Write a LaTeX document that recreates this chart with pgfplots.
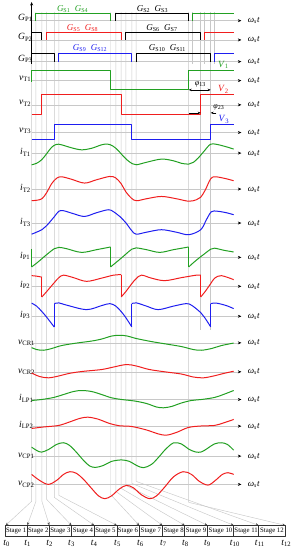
\documentclass[border=0pt]{standalone}
\usepackage{fontspec}
\setmainfont{Liberation Serif}
\usepackage{pgfplots}
\pgfplotsset{compat=1.18}
\usetikzlibrary{arrows.meta}
\definecolor{cg}{RGB}{34,160,34}
\definecolor{cr}{RGB}{240,30,30}
\definecolor{cb}{RGB}{30,30,240}
\definecolor{gy}{RGB}{200,200,200}
\newcommand{\lb}[2]{\textit{#1}\textsubscript{#2}}
\newcommand{\wst}{\textit{ω}\textsubscript{\textit{s}}\textit{t}}
\tikzset{
  wv/.style={line width=1pt,smooth,tension=0.55},
  sq/.style={line width=1pt},
  gl/.style={gy,line width=0.45pt},
  ga/.style={gy,line width=0.45pt,-{Stealth[length=3pt,width=2.4pt,black!70]}},
  lab/.style={anchor=base west,font=\fontsize{9.5}{10}\selectfont}}
\begin{document}
\begin{tikzpicture}
\begin{axis}[width=293pt,height=550pt,scale only axis,xmin=0,xmax=293,ymin=0,ymax=550,
  y dir=reverse,axis lines=none,clip=false,
  every axis plot/.append style={line join=round}]
\addplot[draw=none] coordinates {(0,0)(293,550)};
% vertical guide lines to stage boxes
\addplot[ga] coordinates {(30,12)(30,502)(4,526)};
\addplot[ga] coordinates {(34.3,12)(34.3,502)(25.7,526)};
\addplot[ga] coordinates {(40.3,12)(40.3,502)(47.7,526)};
\addplot[ga] coordinates {(45,12)(45,500)(70,526)};
\addplot[ga] coordinates {(52.7,12)(52.7,498)(92.7,526)};
\addplot[ga] coordinates {(57.3,12)(57.3,496)(115.3,526)};
\addplot[ga] coordinates {(109,12)(109,495)(137.7,526)};
\addplot[ga] coordinates {(114.3,12)(114.3,492)(161,526)};
\addplot[ga] coordinates {(119.7,12)(119.7,489)(183.3,526)};
\addplot[ga] coordinates {(124.3,12)(124.3,486)(206,526)};
\addplot[ga] coordinates {(130.3,12)(130.3,484)(232.3,526)};
\addplot[ga] coordinates {(134.7,12)(134.7,482)(257.3,526)};
\addplot[ga] coordinates {(187.3,12)(187.3,503)(284,526)};
\addplot[gl] coordinates {(190.7,12)(190.7,64)};
\addplot[gl] coordinates {(203.3,12)(203.3,64)};
\addplot[gl] coordinates {(213.3,12)(213.3,64)};
\addplot[gl] coordinates {(199.3,12)(199.3,330)};
\addplot[gl] coordinates {(209.3,12)(209.3,330)};
% horizontal baselines
\pgfplotsinvokeforeach{20.7,40,61.7,80.7,105,132.7,153.3,189.3,223.3,257.7,286.7,316.7,343.3,372.3,400,426.7,456.7,485}{
  \addplot[gy,line width=0.45pt,-{Stealth[length=3.5pt,width=3pt,black]}] coordinates {(30,#1)(240,#1)};
  \node[anchor=west,font=\fontsize{9}{10}\selectfont] at (axis cs:243,#1) {\wst};
}
\addplot[black,line width=0.5pt,-{Stealth[length=3.5pt,width=3pt]}] coordinates {(30,64)(30,2)};
% left labels
\node[lab] at (axis cs:13,20.7) {\lb{G}{P1}};
\node[lab] at (axis cs:13,40) {\lb{G}{P2}};
\node[lab] at (axis cs:13,61.7) {\lb{G}{P3}};
\node[lab] at (axis cs:14,80.7) {\lb{v}{T1}};
\node[lab] at (axis cs:14,105) {\lb{v}{T2}};
\node[lab] at (axis cs:14,132.7) {\lb{v}{T3}};
\node[lab] at (axis cs:15,155) {\lb{i}{T1}};
\node[lab] at (axis cs:15,191) {\lb{i}{T2}};
\node[lab] at (axis cs:15,225) {\lb{i}{T3}};
\node[lab] at (axis cs:15,259) {\lb{i}{P1}};
\node[lab] at (axis cs:15,288) {\lb{i}{P2}};
\node[lab] at (axis cs:15,318) {\lb{i}{P3}};
\node[lab] at (axis cs:13,344.5) {\lb{v}{CR1}};
\node[lab] at (axis cs:13,373.5) {\lb{v}{CR2}};
\node[lab] at (axis cs:14,401.5) {\lb{i}{LP1}};
\node[lab] at (axis cs:14,428) {\lb{i}{LP2}};
\node[lab] at (axis cs:13,458) {\lb{v}{CP1}};
\node[lab] at (axis cs:13,486.5) {\lb{v}{CP2}};
% gate signals
\addplot[black,sq] coordinates {(30,14)(30,20.7)};
\addplot[cg,sq] coordinates {(34.3,20.7)(34.3,14)(109,14)(109,20.7)};
\addplot[black,sq] coordinates {(114.3,20.7)(114.3,14)(187.3,14)(187.3,20.7)};
\addplot[cg,sq] coordinates {(190.7,20.7)(190.7,14)(232.3,14)};
\addplot[black,sq] coordinates {(30,32.7)(40.3,32.7)(40.3,40)};
\addplot[cr,sq] coordinates {(45,40)(45,32.7)(119.7,32.7)(119.7,40)};
\addplot[black,sq] coordinates {(124.3,40)(124.3,32.7)(199.3,32.7)(199.3,40)};
\addplot[cr,sq] coordinates {(203.3,40)(203.3,32.7)(232.3,32.7)};
\addplot[black,sq] coordinates {(30,53.3)(52.7,53.3)(52.7,61.7)};
\addplot[cb,sq] coordinates {(57.3,61.7)(57.3,53.3)(130.3,53.3)(130.3,61.7)};
\addplot[black,sq] coordinates {(134.7,61.7)(134.7,53.3)(209.3,53.3)(209.3,61.7)};
\addplot[cb,sq] coordinates {(213.3,61.7)(213.3,53.3)(232.3,53.3)};
\node[anchor=base,cg,font=\fontsize{9}{10}\selectfont] at (axis cs:71,11.3) {\lb{G}{S1}\ \ \lb{G}{S4}};
\node[anchor=base,black,font=\fontsize{9}{10}\selectfont] at (axis cs:151,11.3) {\lb{G}{S2}\ \ \lb{G}{S3}};
\node[anchor=base,cr,font=\fontsize{9}{10}\selectfont] at (axis cs:81,30.3) {\lb{G}{S5}\ \ \lb{G}{S8}};
\node[anchor=base,black,font=\fontsize{9}{10}\selectfont] at (axis cs:160.5,30.3) {\lb{G}{S6}\ \ \lb{G}{S7}};
\node[anchor=base,cb,font=\fontsize{9}{10}\selectfont] at (axis cs:88.5,51) {\lb{G}{S9}\ \ \lb{G}{S12}};
\node[anchor=base,black,font=\fontsize{9}{10}\selectfont] at (axis cs:166,51) {\lb{G}{S10}\ \ \lb{G}{S11}};
% transformer voltages
\addplot[cg,sq] coordinates {(30,81.7)(30,70.7)(109,70.7)(109,90)(187.3,90)(187.3,70.7)(232.3,70.7)};
\addplot[cr,sq] coordinates {(30,115)(40.3,115)(40.3,95)(119.7,95)(119.7,115)(199.3,115)(199.3,95)(232.3,95)};
\addplot[cb,sq] coordinates {(30,140)(52.7,140)(52.7,125)(130.3,125)(130.3,140)(209.3,140)(209.3,125)(232.3,125)};
\node[cg,font=\fontsize{9.5}{10}\selectfont] at (axis cs:222,65) {\lb{V}{1}};
\node[cr,font=\fontsize{9.5}{10}\selectfont] at (axis cs:222,89.5) {\lb{V}{2}};
\node[cb,font=\fontsize{9.5}{10}\selectfont] at (axis cs:222.5,119.5) {\lb{V}{3}};
\addplot[black,line width=0.4pt,{Stealth[length=3pt,width=2.4pt]}-{Stealth[length=3pt,width=2.4pt]}] coordinates {(187.3,90)(209.3,90)};
\node[font=\fontsize{8}{9}\selectfont] at (axis cs:199,84.5) {\textit{φ}\textsubscript{13}};
\addplot[black,line width=0.4pt,-{Stealth[length=3pt,width=2.4pt]}] coordinates {(187.3,113)(199.3,113)};
\addplot[black,line width=0.4pt,-{Stealth[length=3pt,width=2.4pt]}] coordinates {(215,113)(209.3,113)};
\node[font=\fontsize{8}{9}\selectfont] at (axis cs:217.5,107.5) {\textit{φ}\textsubscript{23}};
% iT1
\addplot[cg,wv] coordinates {(30,165)(35,163.5)(40,160)(45,154)(50,147.5)(55,144.5)(60,145)(70,148)(80,150)(90,148.5)(100,145)(106,144.3)(111,146)(116,150)(121,155.5)(126,160.5)(131,164)(135,165)(145,162.5)(160,159.3)(172,161)(180,163.5)(187.3,164.3)(192,162.5)(197,158)(203,151)(209,144.5)(215,144.5)(225,147)(232.3,149.3)};
% iT2
\addplot[cr,wv] coordinates {(30,201)(35,200.5)(40.3,199)(45,193)(50,184)(55,178.5)(60,177)(70,179.5)(83,183.3)(95,180)(108,176.7)(114,178)(119.7,184)(124.3,192)(130,198.5)(135,201)(145,199)(160,196.7)(175,199)(187.3,201.5)(195,200)(199.3,197.5)(204,190)(209.3,179)(214,177)(225,179)(232.3,181)};
% iT3
\addplot[cb,wv] coordinates {(30,234.5)(40.3,230)(45,226)(52.7,217)(57.3,211.5)(62,211)(72,214)(83,216.7)(95,213)(106.7,210)(112,212)(119.7,218)(124.3,223)(130.3,231)(134.7,234.5)(145,232.5)(160,230)(175,232.5)(187.3,235)(199.3,230)(205,220)(210,212)(216,211.5)(225,213)(232.3,215)};
% iP1
\addplot[cg,sq] coordinates {(30,249.3)(30,267.3)};
\addplot[cg,wv] coordinates {(30,267.3)(35,263.5)(40.3,259)(45,255)(52.7,249)(57.3,247.7)(65,249)(80,252.7)(95,250)(109,247.3)};
\addplot[cg,sq] coordinates {(109,247.3)(109,267.3)};
\addplot[cg,wv] coordinates {(109,267.3)(114.3,263)(119.7,258.5)(124.3,254.5)(130.3,249.5)(134.7,248.2)(145,250)(158.3,252.7)(172,250)(187.3,247.3)};
\addplot[cg,sq] coordinates {(187.3,247.3)(187.3,267.3)};
\addplot[cg,wv] coordinates {(187.3,267.3)(192,263)(199.3,257)(203.3,254)(209.3,249.5)(213.3,248.5)(222,250.5)(232.3,252.3)};
% iP2
\addplot[cr,wv] coordinates {(30,276)(35,276.5)(40.3,277.5)};
\addplot[cr,sq] coordinates {(40.3,277.5)(40.3,297.3)};
\addplot[cr,wv] coordinates {(40.3,297.3)(45,292)(52.7,283)(57.3,278)(62,275.5)(72,278)(85,281.7)(100,278.5)(112,275.5)(119.7,275)};
\addplot[cr,sq] coordinates {(119.7,275)(119.7,297.3)};
\addplot[cr,wv] coordinates {(119.7,297.3)(124.3,292)(130.3,284)(134.7,279)(140,275.5)(150,278.5)(163.3,281)(180,278)(195,275.5)(199.3,275.5)};
\addplot[cr,sq] coordinates {(199.3,275.5)(199.3,297.3)};
\addplot[cr,wv] coordinates {(199.3,297.3)(203.3,292.5)(209.3,284)(213.3,278.5)(220,276)(232.3,280)};
% iP3
\addplot[cb,wv] coordinates {(30,303.5)(35,306.5)(40.3,312)(45,317.5)(52.7,327.5)};
\addplot[cb,sq] coordinates {(52.7,327.5)(52.7,304)};
\addplot[cb,wv] coordinates {(52.7,304)(57.3,303.3)(65,305.5)(85,310)(100,306)(108.3,304)(114.3,306.5)(119.7,312)(124.3,318)(130.3,327.3)};
\addplot[cb,sq] coordinates {(130.3,327.3)(130.3,304)};
\addplot[cb,wv] coordinates {(130.3,304)(135,303.3)(145,306.5)(156.7,310)(172,306.5)(185,304)(190.7,306)(199.3,313)(203.3,318)(209.3,327.3)};
\addplot[cb,sq] coordinates {(209.3,327.3)(209.3,304)};
\addplot[cb,wv] coordinates {(209.3,304)(215,303.5)(225,306)(232.3,309)};
% vCR1, vCR2
\addplot[cg,wv] coordinates {(30,348)(35,350)(42,350.7)(50,349)(60,346)(75,343.5)(90,341.5)(100,339.5)(110,336.5)(118,335.7)(126,336.5)(135,339)(150,342)(165,344.5)(180,347)(192,350)(200,350.7)(210,349)(220,346)(232.3,343.5)};
\addplot[cr,wv] coordinates {(30,373.5)(38,377)(47,378.3)(57,376.5)(67,374)(80,372)(100,370)(112,367.5)(125,365)(135,366.5)(148,370)(165,372.5)(180,374.5)(192,377.5)(202,378.3)(212,376.5)(222,374)(232.3,371.7)};
% iLP1, iLP2
\addplot[cg,wv] coordinates {(30,401)(40,400)(52,398)(62,395)(72,392)(80,391)(90,392)(100,395)(110,398.3)(120,400)(133,401.5)(145,404)(155,407.5)(162,408.3)(170,407)(180,403.5)(190,401)(200,400)(213,398)(222,395)(232.3,391)};
\addplot[cr,wv] coordinates {(30,429)(42,427.5)(57,426)(68,422.5)(78,419)(86,417.7)(96,419.5)(108,424)(118,426.3)(130,427)(145,430.5)(157,434.5)(165,435.7)(175,433)(187,428)(200,426.5)(213,426)(222,423.5)(232.3,420)};
% vCP1, vCP2
\addplot[cg,wv] coordinates {(30,447.7)(35,451)(40,452.7)(47,450)(55,445)(62,443.3)(68,446)(75,453)(82,461)(88,466.5)(94,468)(102,466)(110,462)(120,460.5)(128,462)(135,466)(142,468.3)(150,465)(157,458)(164,450)(172,443.5)(180,444.5)(187,449.5)(194,452.5)(200,452.5)(206,449)(213,444.5)(220,443.3)(226,445)(232.3,450.7)};
\addplot[cr,wv] coordinates {(30,475)(38,481)(46.7,485)(55,481)(62,475)(68.3,472.3)(75,474)(82,480)(90,489)(97,496.5)(103.3,499.3)(110,496.5)(118,489.5)(125,486)(132,488.5)(140,495.5)(148.3,499.3)(155,496.5)(163,488)(172,477.5)(181.7,472.3)(190,475)(198,482)(206.7,485.7)(214,481)(221,475)(226.7,473.3)(232.3,475)};
% stage boxes
\addplot[black!80,line width=0.5pt] coordinates {(3.3,526)(284,526)(284,537)(3.3,537)(3.3,526)};
\pgfplotsinvokeforeach{25.7,47.7,70,92.7,115.3,137.7,161,183.3,206,232.3,257.3}{
  \addplot[black!80,line width=0.5pt] coordinates {(#1,526)(#1,537)};
}
\node[font=\fontsize{6.8}{8}\selectfont] at (axis cs:14.5,531.5) {Stage 1};
\node[font=\fontsize{6.8}{8}\selectfont] at (axis cs:36.7,531.5) {Stage 2};
\node[font=\fontsize{6.8}{8}\selectfont] at (axis cs:58.85,531.5) {Stage 3};
\node[font=\fontsize{6.8}{8}\selectfont] at (axis cs:81.35,531.5) {Stage 4};
\node[font=\fontsize{6.8}{8}\selectfont] at (axis cs:104,531.5) {Stage 5};
\node[font=\fontsize{6.8}{8}\selectfont] at (axis cs:126.5,531.5) {Stage 6};
\node[font=\fontsize{6.8}{8}\selectfont] at (axis cs:149.35,531.5) {Stage 7};
\node[font=\fontsize{6.8}{8}\selectfont] at (axis cs:172.15,531.5) {Stage 8};
\node[font=\fontsize{6.8}{8}\selectfont] at (axis cs:194.65,531.5) {Stage 9};
\node[font=\fontsize{6.8}{8}\selectfont] at (axis cs:219.15,531.5) {Stage 10};
\node[font=\fontsize{6.8}{8}\selectfont] at (axis cs:244.8,531.5) {Stage 11};
\node[font=\fontsize{6.8}{8}\selectfont] at (axis cs:270.65,531.5) {Stage 12};
% t labels
\node[font=\fontsize{9.5}{10}\selectfont] at (axis cs:5,544) {\lb{t}{0}};
\node[font=\fontsize{9.5}{10}\selectfont] at (axis cs:26,544) {\lb{t}{1}};
\node[font=\fontsize{9.5}{10}\selectfont] at (axis cs:48,544) {\lb{t}{2}};
\node[font=\fontsize{9.5}{10}\selectfont] at (axis cs:70,544) {\lb{t}{3}};
\node[font=\fontsize{9.5}{10}\selectfont] at (axis cs:92.7,544) {\lb{t}{4}};
\node[font=\fontsize{9.5}{10}\selectfont] at (axis cs:116,544) {\lb{t}{5}};
\node[font=\fontsize{9.5}{10}\selectfont] at (axis cs:139,544) {\lb{t}{6}};
\node[font=\fontsize{9.5}{10}\selectfont] at (axis cs:162,544) {\lb{t}{7}};
\node[font=\fontsize{9.5}{10}\selectfont] at (axis cs:184,544) {\lb{t}{8}};
\node[font=\fontsize{9.5}{10}\selectfont] at (axis cs:206,544) {\lb{t}{9}};
\node[font=\fontsize{9.5}{10}\selectfont] at (axis cs:233.5,544) {\lb{t}{10}};
\node[font=\fontsize{9.5}{10}\selectfont] at (axis cs:258.5,544) {\lb{t}{11}};
\node[font=\fontsize{9.5}{10}\selectfont] at (axis cs:285,544) {\lb{t}{12}};
\end{axis}
\end{tikzpicture}
\end{document}
